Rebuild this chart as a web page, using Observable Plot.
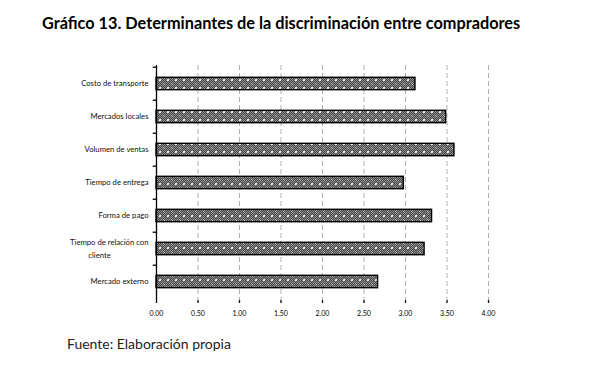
<!DOCTYPE html>
<html>
<head>
<meta charset="utf-8">
<script src="https://cdn.jsdelivr.net/npm/d3@7"></script>
<script src="https://cdn.jsdelivr.net/npm/@observablehq/plot@0.6"></script>
<style>
  html, body { margin: 0; padding: 0; background: #fff; }
  #wrap { position: relative; width: 607px; height: 369px; overflow: hidden; font-family: Lato, "Open Sans", sans-serif; }
  #title { position: absolute; left: 42px; top: 13px; font-size: 16.3px; font-weight: bold; color: #000; white-space: nowrap; }
  #caption { position: absolute; left: 67px; top: 335px; font-size: 14px; color: #222; white-space: nowrap; }
  #chart { position: absolute; left: 0; top: 0; }
</style>
</head>
<body>
<div id="wrap">
  <div id="chart"></div>
  <div id="title">Gráfico 13. Determinantes de la discriminación entre compradores</div>
  <div id="caption">Fuente: Elaboración propia</div>
</div>
<script>
const categories = [
  "Costo de transporte",
  "Mercados locales",
  "Volumen de ventas",
  "Tiempo de entrega",
  "Forma de pago",
  "Tiempo de relación con cliente",
  "Mercado externo"
];
const values = [3.12, 3.49, 3.59, 2.98, 3.32, 3.23, 2.67];
const xTicks = [0, 0.5, 1, 1.5, 2, 2.5, 3, 3.5, 4];
const wrappedLabel = "Tiempo de relación con cliente";
const wrappedLines = ["Tiempo de relación con", "cliente"];

const data = categories.map((c, i) => ({category: c, value: values[i]}));

const W = 607, H = 369, mTop = 65, mBottom = 69, mLeft = 156, mRight = 119;
const bw = (H - mTop - mBottom) / categories.length;

const plot = Plot.plot({
  width: W,
  height: H,
  marginTop: mTop,
  marginBottom: mBottom,
  marginLeft: mLeft,
  marginRight: mRight,
  style: {fontFamily: "Lato, 'Open Sans', sans-serif", background: "transparent", overflow: "visible"},
  x: {domain: [0, 4], ticks: xTicks, tickFormat: d3.format(".2f"), grid: false, label: null},
  y: {domain: categories, padding: 0, axis: null},
  marks: [
    Plot.ruleX(xTicks.filter(d => d > 0), {stroke: "#b0b0b0", strokeWidth: 1, strokeDasharray: "5,3"}),
    Plot.barX(data, {
      y: "category", x: "value",
      fill: "url(#dotpat)", stroke: "#000", strokeWidth: 1.4,
      insetTop: 10.3, insetBottom: 10.3
    }),
    Plot.ruleX([0], {stroke: "#000", strokeWidth: 1.3}),
    Plot.ruleY([0], {frameAnchor: "bottom", x1: -0.045, x2: 4, stroke: "#000", strokeWidth: 1.3}),
    Plot.ruleY(categories, {y: d => d, x1: -0.04, x2: 0, dy: -bw / 2, stroke: "#000", strokeWidth: 1.3}),
    Plot.axisX({ticks: xTicks, tickFormat: d3.format(".2f"), tickSize: 3, tickPadding: 8, fontSize: 7, stroke: "#000", strokeWidth: 1.3, label: null}),
    Plot.text(categories.filter(c => c !== wrappedLabel), {
      y: d => d, frameAnchor: "left", textAnchor: "end", dx: -8, fontSize: 7.7, fill: "#111"
    }),
    Plot.text([wrappedLabel], {
      y: d => d, frameAnchor: "left", textAnchor: "end", dx: -8, dy: -6.5, text: () => wrappedLines[0], fontSize: 7.7, fill: "#111"
    }),
    Plot.text([wrappedLabel], {
      y: d => d, frameAnchor: "left", textAnchor: "middle", dx: -57, dy: 6.8, text: () => wrappedLines[1], fontSize: 7.7, fill: "#111"
    })
  ]
});

// pattern definition for the dotted bar fill (checker with light diamonds)
const svgNS = "http://www.w3.org/2000/svg";
const defs = document.createElementNS(svgNS, "defs");
let cells = "";
for (let y = 0; y < 8; y++) for (let x = 0; x < 8; x++) {
  let c = null;
  const dx = Math.abs(x - 3.5), dy = Math.abs(y - 3.5);
  if ((x + y) % 2 === 0) c = "#8c8c8c";
  if ((x === 0 || x === 7) && (y === 0 || y === 7)) c = "#e6e6e6";
  if (x === 3 && y === 3 || x === 4 && y === 4) c = "#cfcfcf";
  if (c) cells += `<rect x="${x}" y="${y}" width="1" height="1" fill="${c}"/>`;
}
defs.innerHTML = `<pattern id="dotpat" patternUnits="userSpaceOnUse" width="8" height="8">
  <rect width="8" height="8" fill="#474747"/>${cells}</pattern>`;
plot.insertBefore(defs, plot.firstChild);

document.getElementById("chart").appendChild(plot);
</script>
</body>
</html>
